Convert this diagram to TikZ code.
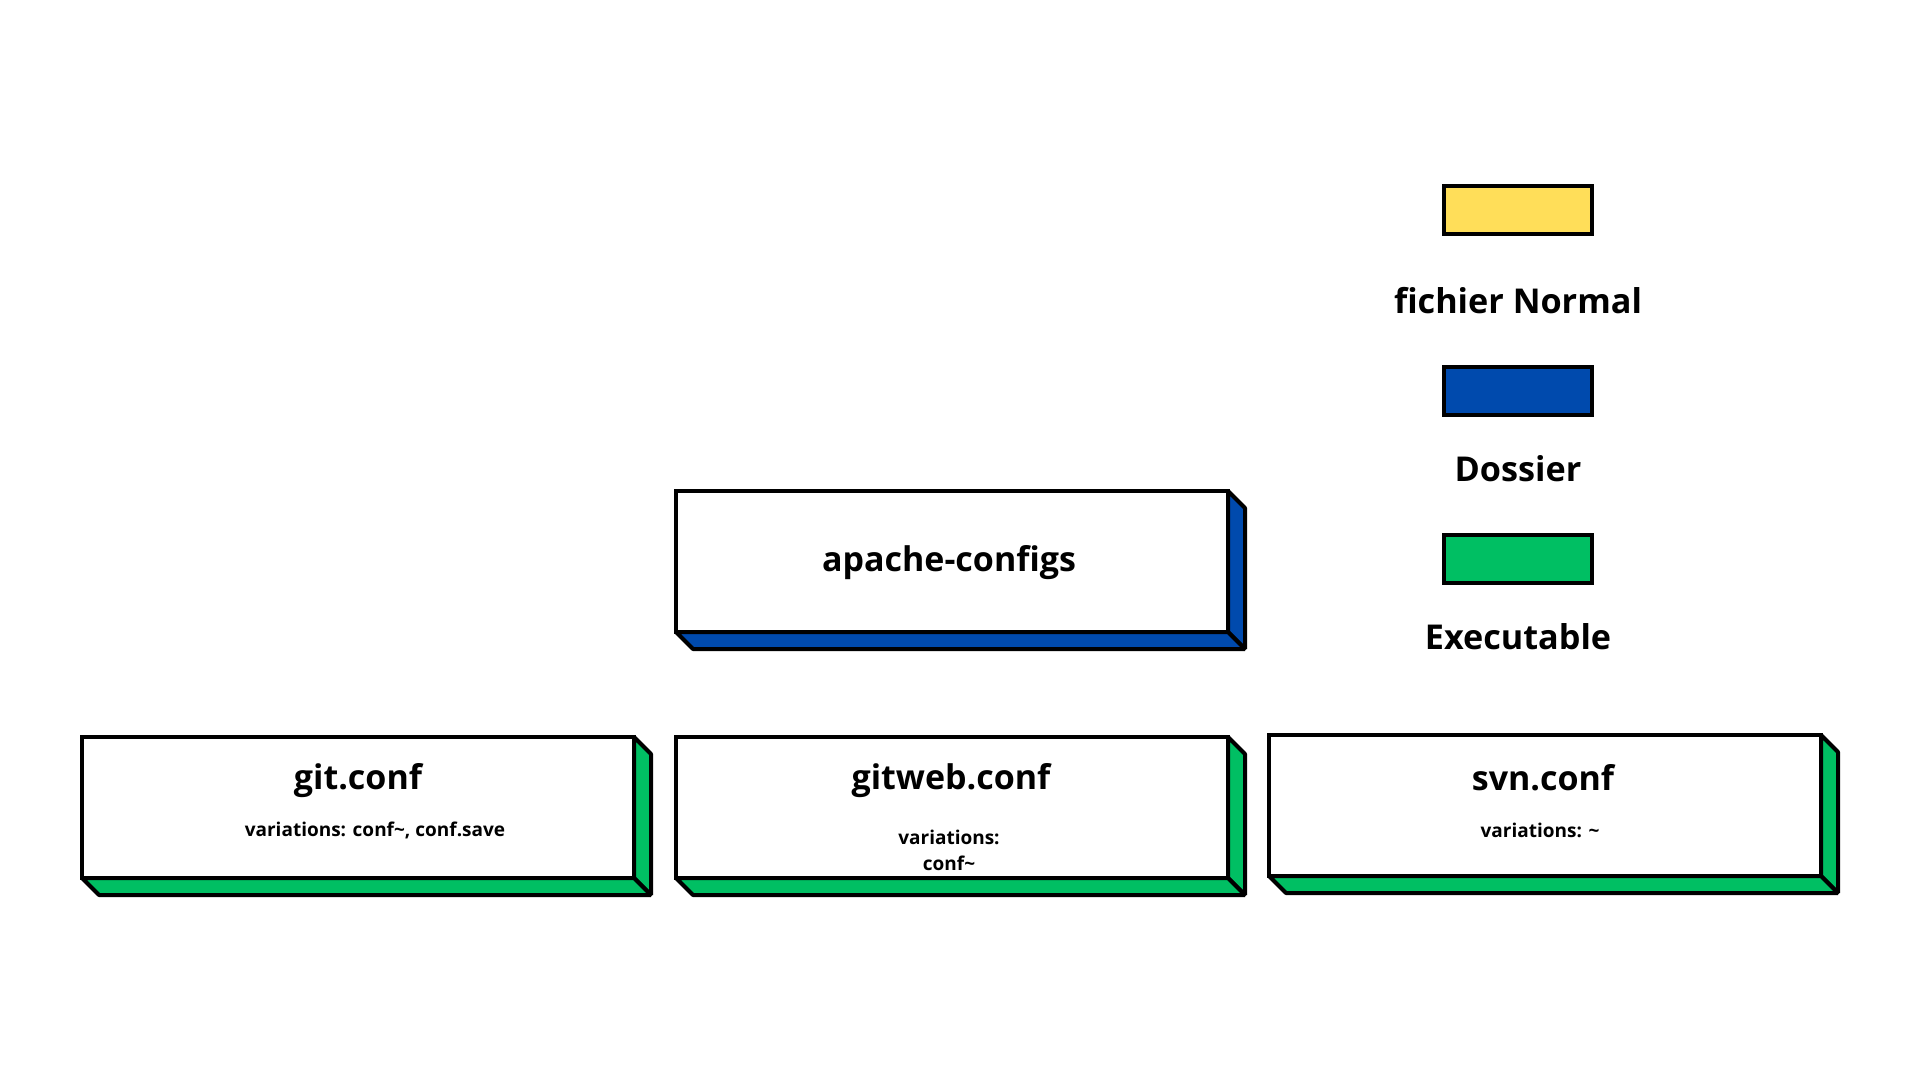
\documentclass[tikz,border=0pt]{standalone}
\usepackage{fontspec}
\setmainfont{Open Sans}
\definecolor{cyellow}{HTML}{FFDE59}
\definecolor{cblue}{HTML}{004AAD}
\definecolor{cgreen}{HTML}{00BF63}
\tikzset{
  front/.style={draw=black, line width=4pt, fill=white, inner sep=0pt, outer sep=0pt, minimum width=552pt, minimum height=141pt},
  face/.style={draw=black, line width=4pt, line join=bevel},
  legendbox/.style={draw=black, line width=4pt, inner sep=0pt, outer sep=0pt, minimum width=148pt, minimum height=48pt},
  title/.style={font=\fontsize{34}{40}\selectfont\bfseries, inner sep=0pt},
  legendtext/.style={font=\fontsize{34.2}{40}\selectfont\bfseries, inner sep=0pt},
  sub/.style={font=\fontsize{19}{26}\selectfont\bfseries, inner sep=0pt, align=center}
}
\newcommand{\extrude}[2]{%
  \draw[face, fill=#2] (#1.north east) -- ++(17,17) -- ++(0,141) -- ++(-17,-17) -- cycle;
  \draw[face, fill=#2] (#1.south west) -- ++(17,17) -- ++(552,0) -- ++(-17,-17) -- cycle;
  \draw[draw=black, line width=4pt] (#1.south west) rectangle (#1.north east);
}
\begin{document}
\begin{tikzpicture}[x=1pt, y=-1pt]
\useasboundingbox[fill=white] (0,0) rectangle (1920,1080);

% legend
\node[legendbox, fill=cyellow] (lnormal) at (1518,210) {};
\node[legendtext] (tnormal) at (1518,301) {fichier Normal};
\node[legendbox, fill=cblue] (ldossier) at (1518,391) {};
\node[legendtext] (tdossier) at (1518,469) {Dossier};
\node[legendbox, fill=cgreen] (lexec) at (1518,559) {};
\node[legendtext] (texec) at (1518,637) {Executable};

% apache-configs
\node[front] (apache) at (952,561.5) {};
\extrude{apache}{cblue}
\node[title] (tapache) at (949,562.5) {apache-configs};

% git.conf
\node[front] (git) at (358,807.5) {};
\extrude{git}{cgreen}
\node[title] (tgit) at (358,780.5) {git.conf};
\node[sub] (sgit) at (375,830.5) {variations: conf\textasciitilde, conf.save};

% gitweb.conf
\node[front] (gitweb) at (952,807.5) {};
\extrude{gitweb}{cgreen}
\node[title] (tgitweb) at (951,780.5) {gitweb.conf};
\node[sub] (sgitweb) at (949,850.5) {variations:\\conf\textasciitilde};

% svn.conf
\node[front] (svn) at (1545,805.5) {};
\extrude{svn}{cgreen}
\node[title] (tsvn) at (1543,777.5) {svn.conf};
\node[sub] (ssvn) at (1540,830.5) {variations: \textasciitilde};
\end{tikzpicture}
\end{document}
